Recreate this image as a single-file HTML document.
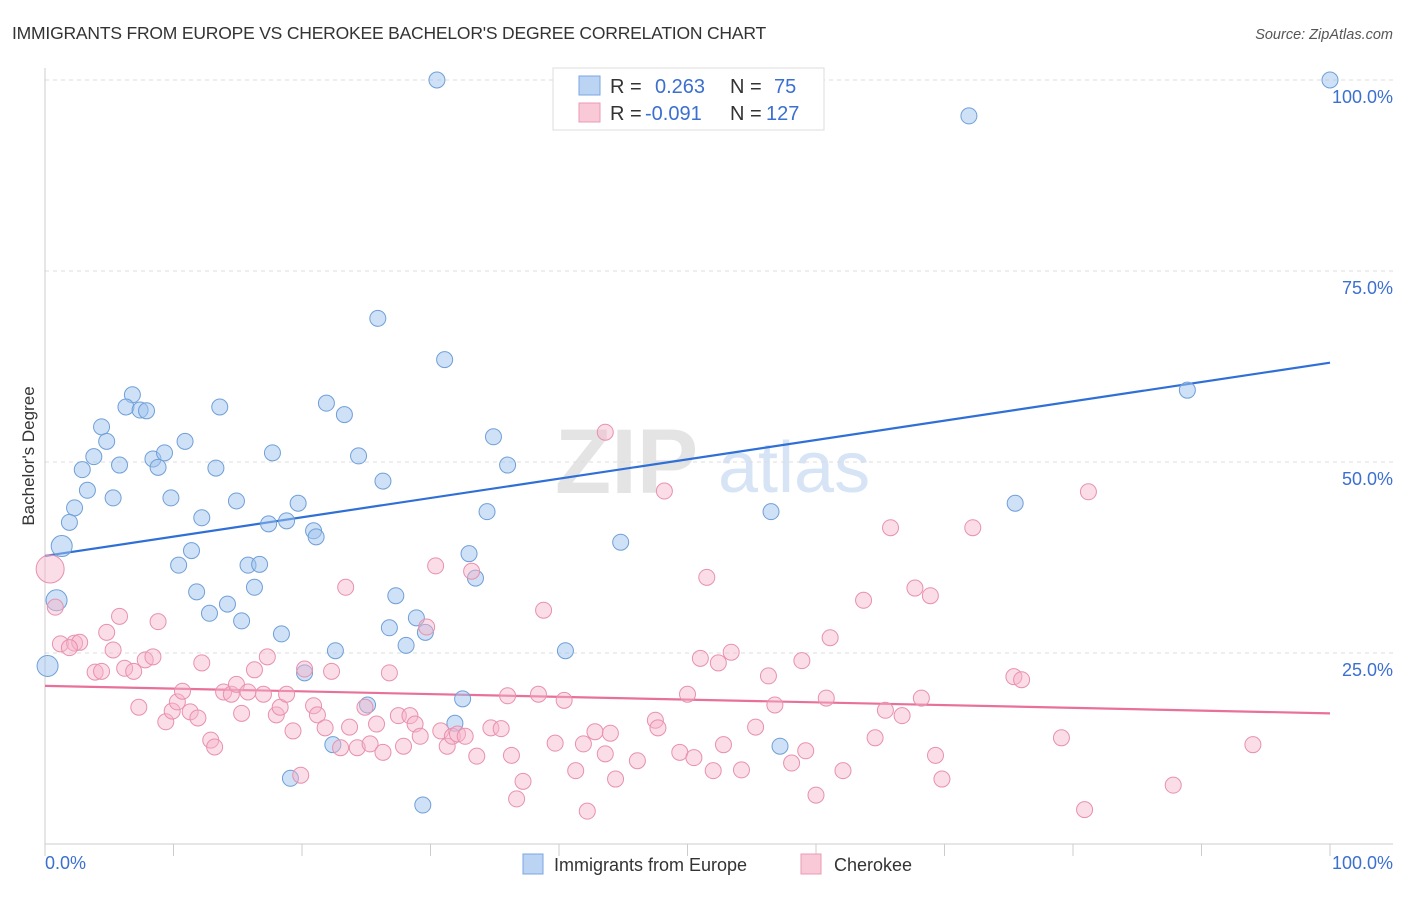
<!DOCTYPE html>
<html><head><meta charset="utf-8"><style>
body{margin:0;background:#fff;font-family:"Liberation Sans",sans-serif;}
svg text{font-family:"Liberation Sans",sans-serif;}
</style></head><body>
<svg id="chart" width="1406" height="892" xmlns="http://www.w3.org/2000/svg">
<text x="12" y="39" font-size="17.5" fill="#333" letter-spacing="-0.2">IMMIGRANTS FROM EUROPE VS CHEROKEE BACHELOR'S DEGREE CORRELATION CHART</text>
<text x="1393" y="39" font-size="14.5" fill="#555" font-style="italic" text-anchor="end">Source: ZipAtlas.com</text>
<text x="555" y="493" font-size="92" fill="#e4e4e4" font-family="Liberation Serif" font-weight="bold">ZIP</text>
<text x="718" y="492" font-size="72" fill="#d6e4f5">atlas</text>
<g id="grid"></g>
<g id="axes"></g>
<text transform="translate(34,456) rotate(-90)" font-size="17" fill="#333" text-anchor="middle">Bachelor's Degree</text>
<g id="lines"></g>
<g id="pts"></g>
<g>
<rect x="553" y="68" width="271" height="62" fill="#fff" stroke="#ddd"/>
<rect x="579" y="76" width="21" height="19" fill="#bcd4f4" stroke="#7aa6e0"/>
<rect x="579" y="103" width="21" height="19" fill="#f9c9d8" stroke="#eb9ab5"/>
<text x="610" y="93" font-size="20" fill="#333">R =</text>
<text x="655" y="93" font-size="20" fill="#3b6fd0">0.263</text>
<text x="730" y="93" font-size="20" fill="#333">N =</text>
<text x="774" y="93" font-size="20" fill="#3b6fd0">75</text>
<text x="610" y="120" font-size="20" fill="#333">R =</text>
<text x="645" y="120" font-size="20" fill="#3b6fd0">-0.091</text>
<text x="730" y="120" font-size="20" fill="#333">N =</text>
<text x="766" y="120" font-size="20" fill="#3b6fd0">127</text>
</g>
<g>
<rect x="523" y="854" width="20" height="20" fill="#bcd4f4" stroke="#7aa6e0"/>
<text x="554" y="871" font-size="18" fill="#333">Immigrants from Europe</text>
<rect x="801" y="854" width="20" height="20" fill="#f9c9d8" stroke="#eb9ab5"/>
<text x="834" y="871" font-size="18" fill="#333">Cherokee</text>
</g>
</svg>
<script>
const blueX=[30.5,100,71.9,25.9,31.1,88.9,6.8,6.3,7.4,7.9,13.6,21.9,23.3,4.4,4.8,10.9,34.9,3.8,8.4,9.3,5.8,8.8,13.3,17.7,24.4,36.0,2.9,3.3,5.3,9.8,14.9,26.3,19.7,2.3,1.9,12.2,17.4,18.8,20.9,21.1,34.4,56.5,75.5,1.3,11.4,10.4,15.8,16.7,33.0,44.8,0.9,11.8,14.2,16.3,27.3,12.8,15.3,33.5,28.9,26.8,29.6,28.1,18.4,22.6,40.5,0.2,20.2,32.5,25.1,31.9,22.4,57.2,19.1,29.4];
const blueY=[100,100,95.3,68.8,63.4,59.4,58.8,57.2,56.8,56.7,57.2,57.7,56.2,54.6,52.7,52.7,53.3,50.7,50.4,51.2,49.6,49.3,49.2,51.2,50.8,49.6,49.0,46.3,45.3,45.3,44.9,47.5,44.6,44.0,42.1,42.7,41.9,42.3,41.0,40.2,43.5,43.5,44.6,39.0,38.4,36.5,36.5,36.6,38.0,39.5,31.9,33.0,31.4,33.6,32.5,30.2,29.2,34.8,29.6,28.3,27.7,26.0,27.5,25.3,25.3,23.3,22.4,19.0,18.2,15.8,13.0,12.8,8.6,5.1];
const pinkX=[0.4,0.8,1.2,2.3,2.7,1.9,3.9,4.4,4.8,5.3,5.8,6.2,6.9,7.8,8.4,8.8,7.3,9.4,9.9,10.3,10.7,11.3,11.9,12.2,12.9,13.2,13.9,14.5,14.9,15.3,15.8,16.3,17.0,17.3,18.0,18.3,18.8,19.3,19.9,20.2,20.9,21.2,21.8,22.3,23.0,23.4,23.7,24.3,24.9,25.3,25.8,26.3,26.8,27.5,27.9,28.4,28.8,29.2,29.7,30.4,30.8,31.3,31.7,32.1,32.7,33.2,33.6,34.7,35.5,36.0,36.3,36.7,37.2,38.4,38.8,39.7,40.4,41.3,41.9,42.2,42.8,43.6,44.0,44.4,46.1,47.5,47.7,48.2,43.6,49.4,50.0,50.5,51.0,51.5,52.0,52.4,52.8,53.4,54.2,55.3,56.3,56.8,58.1,58.9,59.2,60.0,61.1,60.8,62.1,63.7,64.6,65.4,65.8,66.7,67.7,68.2,68.9,69.3,69.8,72.2,75.4,76.0,79.1,80.9,81.2,87.8,94.0];
const pinkY=[36.0,31.0,26.2,26.3,26.4,25.7,22.5,22.6,27.7,25.4,29.8,23.0,22.6,24.1,24.5,29.1,17.9,16.0,17.4,18.6,20.0,17.3,16.5,23.7,13.6,12.7,19.9,19.6,20.9,17.1,19.9,22.8,19.6,24.5,16.9,17.9,19.6,14.8,9.0,22.9,18.1,16.9,15.2,22.6,12.6,33.6,15.3,12.6,17.9,13.1,15.7,12.0,22.4,16.8,12.8,16.8,15.7,14.1,28.4,36.4,14.8,12.8,14.1,14.4,14.1,35.7,11.5,15.2,15.1,19.4,11.6,5.9,8.2,19.6,30.6,13.2,18.8,9.6,13.1,4.3,14.7,11.8,14.5,8.5,10.9,16.2,15.2,46.2,53.9,12.0,19.6,11.3,24.3,34.9,9.6,23.7,13.0,25.1,9.7,15.3,22.0,18.2,10.6,24.0,12.2,6.4,27.0,19.1,9.6,31.9,13.9,17.5,41.4,16.8,33.5,19.1,32.5,11.6,8.5,41.4,21.9,21.5,13.9,4.5,46.1,7.7,13.0];
const blueTrend=[37.7,63.0];
const pinkTrend=[20.7,17.1];
const yTicks=[25,50,75,100];
const yTickLabels=["25.0%","50.0%","75.0%","100.0%"];
const xTicks=[0,10,20,30,40,50,60,70,80,90,100];
const NS="http://www.w3.org/2000/svg";
const sx=v=>45+v*12.85;
const sy=v=>844-v*7.64;
function mk(tag,attrs,parent){const e=document.createElementNS(NS,tag);for(const k in attrs)e.setAttribute(k,attrs[k]);document.getElementById(parent).appendChild(e);return e;}
yTicks.forEach((t,i)=>{
 const l=mk('line',{x1:45,x2:1393,y1:sy(t),y2:sy(t),stroke:'#ddd','stroke-dasharray':'4,4'},'grid');
 
 
 const tx=mk('text',{x:1393,y:sy(t)+23,'font-size':18,fill:'#3b6fd0','text-anchor':'end'},'grid');
 tx.textContent=yTickLabels[i];
 
 
});
mk('line',{x1:45,x2:45,y1:68,y2:844,stroke:'#ccc'},'axes');
mk('line',{x1:45,x2:1393,y1:844,y2:844,stroke:'#ccc'},'axes');
xTicks.forEach(t=>{
 const l=mk('line',{x1:sx(t),x2:sx(t),y1:844,y2:856,stroke:'#ccc'},'axes');
 
 
});
const xl0=mk('text',{x:45,y:869,'font-size':18,fill:'#3b6fd0'},'axes');xl0.textContent='0.0%';


const xl1=mk('text',{x:1393,y:869,'font-size':18,fill:'#3b6fd0','text-anchor':'end'},'axes');xl1.textContent='100.0%';


blueX.forEach((x,i)=>{
 const big=(x<1.5&&blueY[i]<40)||(x<0.5);
 const c=mk('circle',{cx:sx(x),cy:sy(blueY[i]),r:big?10.5:8,fill:'rgba(160,195,238,0.5)',stroke:'#6f9fd8','stroke-width':1},'pts');
 
 
});
pinkX.forEach((x,i)=>{
 const big=i===0;
 const c=mk('circle',{cx:sx(x),cy:sy(pinkY[i]),r:big?14:8,fill:'rgba(246,180,202,0.45)',stroke:'#e891ad','stroke-width':1},'pts');
 
 
});
const bl=mk('line',{x1:sx(0),x2:sx(100),y1:sy(blueTrend[0]),y2:sy(blueTrend[1]),stroke:'#2f6fd6','stroke-width':2.2},'lines');


const pl=mk('line',{x1:sx(0),x2:sx(100),y1:sy(pinkTrend[0]),y2:sy(pinkTrend[1]),stroke:'#e8709a','stroke-width':2.2},'lines');


</script>
</body></html>
